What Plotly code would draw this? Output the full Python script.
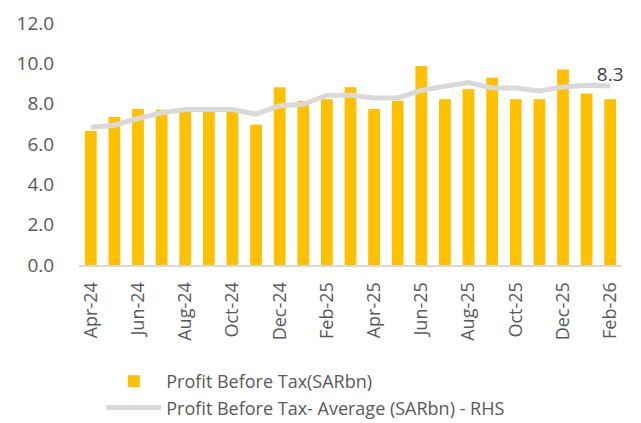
import plotly.graph_objects as go

months = ["Apr-24","May-24","Jun-24","Jul-24","Aug-24","Sep-24","Oct-24","Nov-24","Dec-24","Jan-25",
          "Feb-25","Mar-25","Apr-25","May-25","Jun-25","Jul-25","Aug-25","Sep-25","Oct-25","Nov-25",
          "Dec-25","Jan-26","Feb-26"]
pbt = [6.65, 7.34, 7.74, 7.7, 7.6, 7.6, 7.6, 6.95, 8.81, 8.13,
       8.22, 8.81, 7.74, 8.13, 9.87, 8.22, 8.71, 9.29, 8.22, 8.22,
       9.69, 8.50, 8.22]
pbt_avg = [6.37, 6.47, 6.78, 7.04, 7.20, 7.20, 7.20, 6.98, 7.37, 7.44,
           7.86, 7.86, 7.73, 7.73, 8.08, 8.27, 8.44, 8.19, 8.19, 8.05,
           8.24, 8.32, 8.29]
tick_labels = months[::2]

avg_text = [""] * (len(months) - 1) + [f"{pbt_avg[-1]:.1f}"]

FONT = "Open Sans"

fig = go.Figure()
fig.add_trace(go.Bar(x=months, y=pbt, name="Profit Before Tax(SARbn)", legendgroup="a",
                     marker=dict(color="#FFC000", line=dict(width=0)), yaxis="y"))
fig.add_trace(go.Scatter(x=months, y=pbt_avg, name="Profit Before Tax- Average (SARbn) - RHS",
                         legendgroup="b",
                         mode="lines+text", text=avg_text, textposition="top center",
                         textfont=dict(size=19, color="#404040", family=FONT),
                         line=dict(color="#D9D9D9", width=5), yaxis="y2", cliponaxis=False))

fig.update_layout(
    width=641, height=423,
    margin=dict(l=79, r=19, t=23, b=158, autoexpand=False),
    paper_bgcolor="white", plot_bgcolor="white",
    bargap=0.5,
    font=dict(family=FONT, color="#595959"),
    xaxis=dict(type="category", range=[-0.5, 22.5], tickmode="array",
               tickvals=tick_labels, ticktext=tick_labels, tickangle=-90,
               tickfont=dict(size=18, color="#595959"), showgrid=False,
               showline=True, linecolor="#D9D9D9", linewidth=2,
               ticks="outside", ticklen=8, tickcolor="rgba(0,0,0,0)", automargin=False),
    yaxis=dict(range=[0, 12], dtick=2, tickformat=".1f", showgrid=False,
               zeroline=False, showline=False, tickfont=dict(size=19, color="#595959"),
               ticks="outside", ticklen=20, tickcolor="rgba(0,0,0,0)", automargin=False),
    yaxis2=dict(range=[0, 11.2], overlaying="y", side="right", visible=False),
    legend=dict(x=0.041, y=-0.665, xanchor="left", yanchor="bottom",
                font=dict(size=18, color="#595959"), traceorder="normal",
                tracegroupgap=3,
                itemwidth=55, bgcolor="rgba(0,0,0,0)"),
    showlegend=True,
)

fig.write_html("out.html", config={"displayModeBar": False},
               post_script="document.body.style.margin='0px';")
